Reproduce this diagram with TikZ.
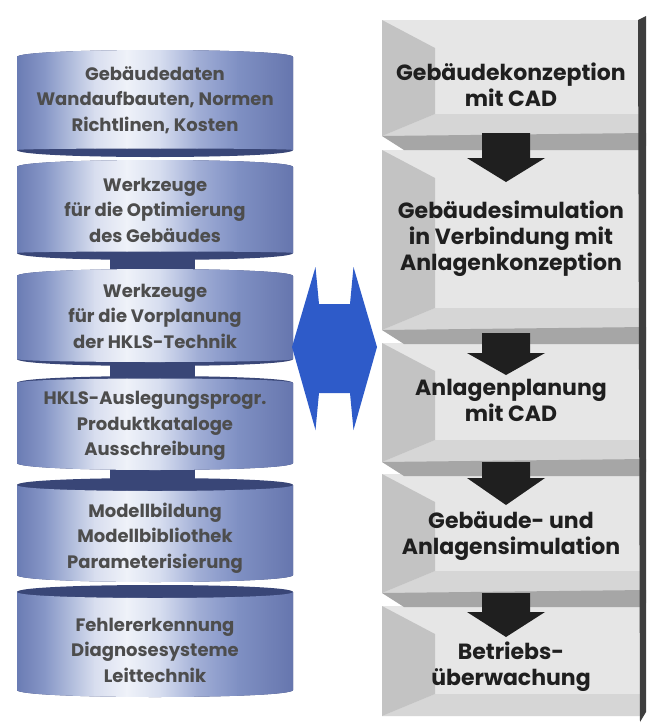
\documentclass[tikz,border=0pt]{standalone}
\usepackage{fontspec}
\setmainfont{Poppins}
\usepackage[HTML]{xcolor}
\usetikzlibrary{positioning, calc}
\definecolor{cylA}{HTML}{6A7CB4}
\definecolor{cylB}{HTML}{8797C7}
\definecolor{cylC}{HTML}{D8DEEF}
\definecolor{cylD}{HTML}{EFF2F9}
\definecolor{cylE}{HTML}{D6DDEF}
\definecolor{cylF}{HTML}{A2AFD6}
\definecolor{cylG}{HTML}{7F90C3}
\definecolor{cylH}{HTML}{6676AE}
\definecolor{cyldark}{HTML}{394677}
\definecolor{dblblue}{HTML}{2E5BC9}
\definecolor{backwall}{HTML}{E6E6E6}
\definecolor{leftwall}{HTML}{C3C3C3}
\definecolor{floorgray}{HTML}{D6D6D6}
\definecolor{shelfgray}{HTML}{A6A6A6}
\definecolor{sidegray}{HTML}{3E3E3E}

\begin{document}
\begin{tikzpicture}[x=1pt,y=-1pt,
  cyltext/.style={align=center, text=black!70, font=\bfseries\fontsize{18}{25.5}\selectfont},
  steptext/.style={align=center, text=black!88, font=\bfseries\fontsize{22}{26}\selectfont},
  blockarrow/.style={fill=black!88}]
\useasboundingbox[fill=white] (0,0) rectangle (648,724);
% connectors between the cylinders
\foreach \a/\b in {256/272, 362/380, 466/482}{
  \fill[cyldark] (110,\a) rectangle (195,\b);
}
% cylinders
\foreach \t/\b/\ct/\cb in {50/157/-9.33/-2, 160/260/-9.33/-2, 269/366/-9.33/4,
                           376/470/-6/9.33, 478/582/8/9.33, 585/697/8/9.33}{
  \pgfmathsetmacro\yt{\t+7}
  \pgfmathsetmacro\yb{\b-7}
  \pgfmathsetmacro\yto{\yt-9.33}
  \pgfmathsetmacro\ybo{\yb+9.33}
  \pgfmathsetmacro\ytc{\yt+\ct}
  \pgfmathsetmacro\ybc{\yb+\cb}
  \fill[cyldark] (17,\yt) .. controls (17,\yto) and (293,\yto) .. (293,\yt)
    -- (293,\yb) .. controls (293,\ybo) and (17,\ybo) .. (17,\yb) -- cycle;
  \begin{scope}
    \clip (17,\yt) .. controls (17,\ytc) and (293,\ytc) .. (293,\yt)
      -- (293,\yb) .. controls (293,\ybc) and (17,\ybc) .. (17,\yb) -- cycle;
    \foreach \xa/\xb/\ca/\cc in {17/45/cylA/cylB, 45/95/cylB/cylC, 95/127/cylC/cylD,
        127/160/cylD/cylE, 160/197/cylE/cylF, 197/238/cylF/cylG, 238/293/cylG/cylH}{
      \shade[left color=\ca, right color=\cc] (\xa-0.3,\t) rectangle (\xb+0.3,\b);
    }
  \end{scope}
}
\node[cyltext] (d1) at (155,100) {Gebäudedaten\\Wandaufbauten, Normen\\Richtlinen, Kosten};
\node[cyltext] (d2) at (155,210) {Werkzeuge\\für die Optimierung\\des Gebäudes};
\node[cyltext] (d3) at (155,316) {Werkzeuge\\für die Vorplanung\\der HKLS-Technik};
\node[cyltext] (d4) at (155,426) {HKLS-Auslegungsprogr.\\Produktkataloge\\Ausschreibung};
\node[cyltext] (d5) at (155,538) {Modellbildung\\Modellbibliothek\\Parameterisierung};
\node[cyltext] (d6) at (155,650) {Fehlererkennung\\Diagnosesysteme\\Leittechnik};
% double arrow
\fill[dblblue] (292,347) -- (315.5,267) -- (319,304) -- (350,304) -- (353.5,267)
  -- (377,347) -- (353.5,430) -- (350,393) -- (319,393) -- (315.5,430) -- cycle;
% shelves on the right
\foreach \T/\B in {20/136, 150/330, 343/462, 474/593, 606/716}{
  \fill[backwall] (382,\T) rectangle (640,\B);
  \fill[floorgray] (382,\B) -- (435,\B-22) -- (640,\B-22) -- (640,\B) -- cycle;
  \fill[leftwall] (382,\T) -- (435,\T+28) -- (435,\B-22) -- (382,\B) -- cycle;
}
\foreach \B in {136,330,462,593}{
  \fill[shelfgray] (382,\B) -- (646,\B-3) -- (646,\B+10) -- (640,\B+14) -- (404,\B+14) -- cycle;
}
\fill[sidegray] (638,20) -- (646,16) -- (646,712) -- (640,722) -- cycle;
% arrows between the steps
\foreach \s/\h/\p in {133/158/182, 333/353/375, 462/478/505, 593/612/637}{
  \fill[blockarrow] (482,\s) -- (530,\s) -- (530,\h) -- (545,\h) -- (506,\p)
    -- (467,\h) -- (482,\h) -- cycle;
}
\node[steptext] (k1) at (511,85) {Gebäudekonzeption\\mit CAD};
\node[steptext] (k2) at (511,239) {Gebäudesimulation\\in Verbindung mit\\Anlagenkonzeption};
\node[steptext] (k3) at (511,400) {Anlagenplanung\\mit CAD};
\node[steptext] (k4) at (511,536) {Gebäude- und\\Anlagensimulation};
\node[steptext] (k5) at (511,667) {Betriebs-\\überwachung};
\end{tikzpicture}
\end{document}
